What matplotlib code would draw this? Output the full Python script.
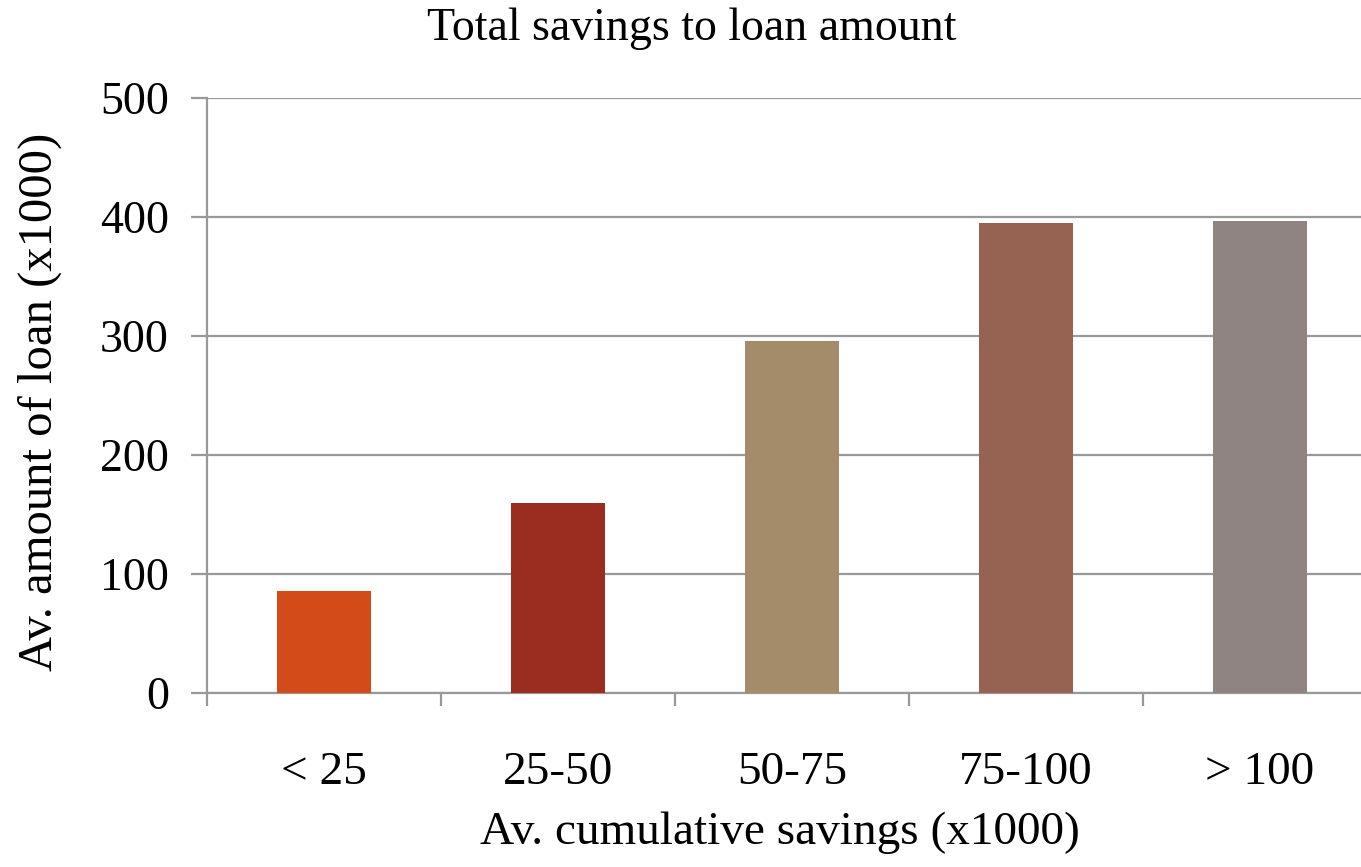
import matplotlib
matplotlib.use("Agg")
import matplotlib.pyplot as plt

# data
categories = ["< 25", "25-50", "50-75", "75-100", "> 100"]
loan_amounts = [86, 160, 296, 395, 397]
bar_colors = ["#D24B19", "#9A2D20", "#A48C6A", "#966251", "#908483"]
y_ticks = [0, 100, 200, 300, 400, 500]

GRID = "#999999"
plt.rcParams["font.family"] = ["Liberation Serif", "DejaVu Serif"]

fig = plt.figure(figsize=(13.61, 8.67), dpi=100)
# right edge runs past the figure, as in the original
ax = fig.add_axes([207 / 1361, 1 - 693 / 867, 1170 / 1361, (693 - 98) / 867])

x = list(range(len(categories)))
ax.bar(x, loan_amounts, width=0.405, color=bar_colors, zorder=3)

ax.set_xlim(-0.5, len(categories) - 0.5)
ax.set_ylim(0, 500)
ax.set_yticks(y_ticks)
ax.set_yticklabels([str(v) for v in y_ticks], fontsize=33)
ax.yaxis.grid(True, color=GRID, linewidth=1.6, zorder=0)

# category labels at bar centres, tick marks on the boundaries
ax.set_xticks(x)
ax.set_xticklabels(categories, fontsize=34)
ax.set_xticks([i - 0.5 for i in range(len(categories) + 1)], minor=True)
ax.tick_params(axis="x", which="major", length=0, pad=42)
ax.tick_params(axis="x", which="minor", length=9, width=1.6, color=GRID)
ax.tick_params(axis="y", length=11.5, width=1.6, color=GRID, pad=16)

for side in ("top", "right"):
    ax.spines[side].set_visible(False)
for side in ("left", "bottom"):
    ax.spines[side].set_color(GRID)
    ax.spines[side].set_linewidth(1.6)

ax.set_title("Total savings to loan amount", fontsize=33, pad=42, x=(692 - 207) / 1170)
ax.set_xlabel("Av. cumulative savings (x1000)", fontsize=34)
ax.set_ylabel("Av. amount of loan (x1000)", fontsize=35)
ax.xaxis.set_label_coords((780 - 207) / 1170, -(812 - 693) / 595)
ax.yaxis.set_label_coords((62 - 207) / 1170, (693 - 402) / 595)

fig.savefig("out.png", dpi=100)
